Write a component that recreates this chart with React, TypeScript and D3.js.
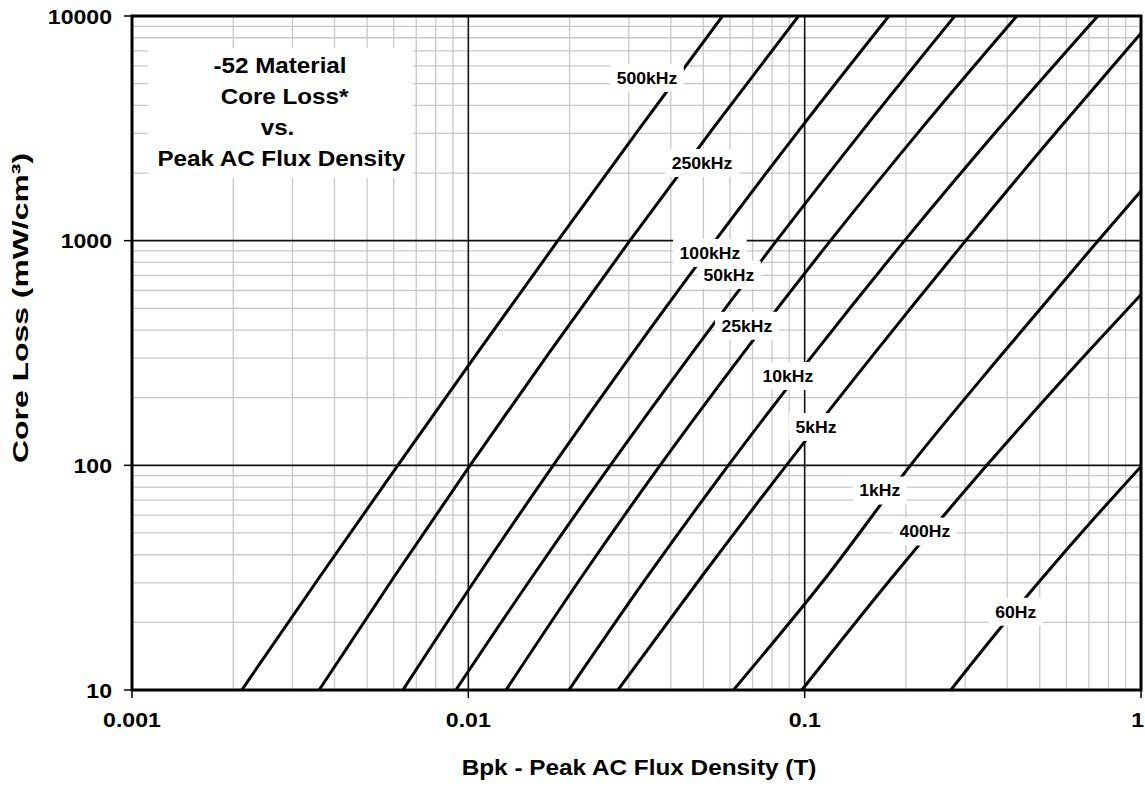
import { useEffect, useRef } from 'react';
import * as d3 from 'd3';

const WIDTH = 1145;
const HEIGHT = 787;
const PLOT = { left: 132, right: 1141, top: 16, bottom: 690 };
const FONT = '"Liberation Sans", Arial, Helvetica, sans-serif';
const SX = 1.1; // the original lettering is drawn a little wide

const X_TICKS = [0.001, 0.01, 0.1, 1];
const X_TICK_LABELS = ['0.001', '0.01', '0.1', '1'];
const Y_TICKS = [10, 100, 1000, 10000];
const Y_TICK_LABELS = ['10', '100', '1000', '10000'];

const TITLE_LINES = ['-52 Material', 'Core Loss*', 'vs.', 'Peak AC Flux Density'];

// curves: [Bpk (T), core loss (mW/cm3)]
const C500K = [[0.00212, 10], [0.0036, 31.6], [0.00617, 100], [0.01063, 316], [0.01846, 1000], [0.0323, 3162], [0.057, 10000]];
const C250K = [[0.0036, 10], [0.00599, 31.6], [0.01012, 100], [0.01736, 316], [0.03022, 1000], [0.0534, 3162], [0.0959, 10000]];
const C100K = [[0.00639, 10], [0.01058, 31.6], [0.01788, 100], [0.0308, 316], [0.0542, 1000], [0.0972, 3162], [0.178, 10000]];
const C50K = [[0.00918, 10], [0.01542, 31.6], [0.02643, 100], [0.04624, 316], [0.0825, 1000], [0.1504, 3162], [0.2796, 10000]];
const C25K = [[0.01294, 10], [0.02163, 31.6], [0.03716, 100], [0.0657, 316], [0.1193, 1000], [0.2227, 3162], [0.4274, 10000]];
const C10K = [[0.01991, 10], [0.03388, 31.6], [0.0593, 100], [0.1069, 316], [0.1982, 1000], [0.3784, 3162], [0.744, 10000]];
const C5K = [[0.02784, 10], [0.0491, 31.6], [0.0882, 100], [0.1614, 316], [0.3011, 1000], [0.5723, 3162], [1, 8375]];
const C1K = [[0.0614, 10], [0.1155, 31.6], [0.2063, 100], [0.3887, 316], [0.7454, 1000], [1, 1664]];
const C400 = [[0.0981, 10], [0.1816, 31.6], [0.3479, 100], [0.6905, 316], [1, 575]];
const C60 = [[0.272, 10], [0.3698, 17.8], [0.5095, 31.6], [0.7117, 56.2], [1, 98.8]];

const FREQS = ['500kHz', '250kHz', '100kHz', '50kHz', '25kHz', '10kHz', '5kHz', '1kHz', '400Hz', '60Hz'];
const CURVES = [C500K, C250K, C100K, C50K, C25K, C10K, C5K, C1K, C400, C60];
// where each frequency label sits, in chart units
const LABEL_AT = [
  [0.03397, 5298], [0.04949, 2217], [0.05226, 882], [0.05952, 704], [0.06733, 418],
  [0.08915, 250], [0.108, 148], [0.1673, 77.2], [0.2277, 50.7], [0.4244, 22.3],
];

function addText(g, str, x, y, size, anchor, sx = SX) {
  return g.append('text')
    .attr('transform', `translate(${x},${y}) scale(${sx},1)`)
    .attr('text-anchor', anchor)
    .attr('font-family', FONT)
    .attr('font-weight', 'bold')
    .attr('font-size', size)
    .attr('fill', '#000')
    .text(str);
}

export default function App() {
  const svgRef = useRef<SVGSVGElement>(null);

  useEffect(() => {
    const svg = d3.select(svgRef.current);
    svg.selectAll('*').remove();

    const x = d3.scaleLog().domain([0.001, 1]).range([PLOT.left, PLOT.right]);
    const y = d3.scaleLog().domain([10, 10000]).range([PLOT.bottom, PLOT.top]);

    svg.append('rect').attr('width', WIDTH).attr('height', HEIGHT).attr('fill', '#fff');

    svg.append('clipPath').attr('id', 'plot-clip')
      .append('rect')
      .attr('x', PLOT.left).attr('y', PLOT.top)
      .attr('width', PLOT.right - PLOT.left).attr('height', PLOT.bottom - PLOT.top);

    // minor grid
    const grid = svg.append('g');
    const isMajor = (v) => Math.abs(Math.log10(v) - Math.round(Math.log10(v))) < 1e-6;
    x.ticks().filter((v) => !isMajor(v)).forEach((v) => {
      grid.append('line')
        .attr('x1', x(v)).attr('x2', x(v)).attr('y1', PLOT.top).attr('y2', PLOT.bottom)
        .attr('stroke', '#c8c8c8').attr('stroke-width', 1.3);
    });
    y.ticks().filter((v) => !isMajor(v)).forEach((v) => {
      grid.append('line')
        .attr('x1', PLOT.left).attr('x2', PLOT.right).attr('y1', y(v)).attr('y2', y(v))
        .attr('stroke', '#c8c8c8').attr('stroke-width', 1.3);
    });
    // major grid
    X_TICKS.forEach((v) => {
      grid.append('line')
        .attr('x1', x(v)).attr('x2', x(v)).attr('y1', PLOT.top).attr('y2', PLOT.bottom)
        .attr('stroke', '#111').attr('stroke-width', 1.6);
    });
    Y_TICKS.forEach((v) => {
      grid.append('line')
        .attr('x1', PLOT.left).attr('x2', PLOT.right).attr('y1', y(v)).attr('y2', y(v))
        .attr('stroke', '#111').attr('stroke-width', 1.6);
    });

    // curves
    const line = d3.line()
      .x((d) => x(d[0]))
      .y((d) => y(d[1]))
      .curve(d3.curveMonotoneX);

    svg.append('g').attr('clip-path', 'url(#plot-clip)')
      .selectAll('path')
      .data(CURVES)
      .join('path')
      .attr('d', (d) => line(d))
      .attr('fill', 'none')
      .attr('stroke', '#000')
      .attr('stroke-width', 3);

    // frequency labels
    const labels = svg.append('g');
    FREQS.forEach((name, i) => {
      const [b, p] = LABEL_AT[i];
      const cx = x(b);
      const cy = y(p);
      const box = labels.append('rect').attr('fill', '#fff');
      const t = addText(labels, name, cx, cy + 5.8, 16, 'middle');
      const w = (t.node() as SVGTextElement).getComputedTextLength() * SX + 13;
      box.attr('x', cx - w / 2).attr('y', cy - 14).attr('width', w).attr('height', 28);
    });

    // title box
    const title = svg.append('g');
    title.append('rect').attr('x', 148).attr('y', 48).attr('width', 265).attr('height', 130).attr('fill', '#fff');
    const titleX = [280, 284.5, 277.5, 281.3];
    TITLE_LINES.forEach((s, i) => addText(title, s, titleX[i], 73 + i * 31, 22, 'middle'));

    // frame
    svg.append('rect')
      .attr('x', PLOT.left).attr('y', PLOT.top)
      .attr('width', PLOT.right - PLOT.left).attr('height', PLOT.bottom - PLOT.top)
      .attr('fill', 'none').attr('stroke', '#000').attr('stroke-width', 3);

    // axes
    const axes = svg.append('g');
    X_TICKS.forEach((v, i) => {
      axes.append('line')
        .attr('x1', x(v)).attr('x2', x(v)).attr('y1', PLOT.bottom).attr('y2', PLOT.bottom + 8)
        .attr('stroke', '#000').attr('stroke-width', 1.5);
      const t = addText(axes, X_TICK_LABELS[i], x(v), 727, 21, 'middle');
      // keep the last label inside the page
      const half = ((t.node() as SVGTextElement).getComputedTextLength() * SX) / 2;
      const cx = Math.min(x(v), WIDTH - half - 1);
      t.attr('transform', `translate(${cx},727) scale(${SX},1)`);
    });
    Y_TICKS.forEach((v, i) => {
      axes.append('line')
        .attr('x1', PLOT.left - 8).attr('x2', PLOT.left).attr('y1', y(v)).attr('y2', y(v))
        .attr('stroke', '#000').attr('stroke-width', 1.5);
      addText(axes, Y_TICK_LABELS[i], 112, y(v) + 7.5, 21, 'end');
    });

    addText(axes, 'Bpk - Peak AC Flux Density (T)', 639, 775, 22, 'middle', 1.107);

    axes.append('text')
      .attr('transform', 'translate(28,308) rotate(-90) scale(1.45,1)')
      .attr('text-anchor', 'middle')
      .attr('font-family', FONT)
      .attr('font-weight', 'bold')
      .attr('font-size', 22)
      .attr('fill', '#000')
      .text('Core Loss (mW/cm³)');
  }, []);

  return (
    <svg
      ref={svgRef}
      width={WIDTH}
      height={HEIGHT}
      viewBox={`0 0 ${WIDTH} ${HEIGHT}`}
      style={{ position: 'absolute', left: 0, top: 0, display: 'block' }}
    />
  );
}
